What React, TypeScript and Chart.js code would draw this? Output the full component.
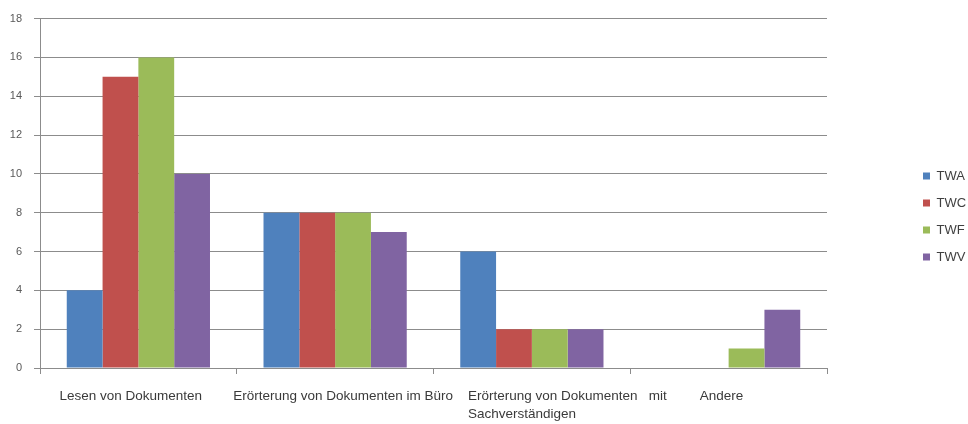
import React, { useEffect, useRef } from "react";
import { Chart, registerables } from "chart.js";

Chart.register(...registerables);

// ---- data ----
const categories: string[][] = [
  ["Lesen von Dokumenten"],
  ["Erörterung von Dokumenten im Büro"],
  ["Erörterung von Dokumenten   mit", "Sachverständigen"],
  ["Andere"],
];
const seriesNames = ["TWA", "TWC", "TWF", "TWV"];
const twa = [4, 8, 6, 0];
const twc = [15, 8, 2, 0];
const twf = [16, 8, 2, 1];
const twv = [10, 7, 2, 3];
const yTickValues = [0, 2, 4, 6, 8, 10, 12, 14, 16, 18];

// ---- styles ----
const colors = ["#4F81BD", "#C0504D", "#9BBB59", "#8064A2"];
const GRID = "#8c8c8c";
const FONT = '"Liberation Sans", Arial, sans-serif';
const labelShift = [-79, -102, -64, -29];

const layoutPlugin = {
  id: "layoutTweaks",
  afterInit(chart: any) {
    const lg = chart.legend;
    if (!lg) return;
    const origFit = lg.fit.bind(lg);
    lg.fit = function () {
      origFit();
      this.width = 968 - 827;
    };
  },
  afterLayout(chart: any) {
    const lg = chart.legend;
    if (!lg) return;
    const pad = lg.options.labels.padding;
    const w = lg.width;
    lg.left = 923 - pad;
    lg.right = lg.left + w;
    lg.top = 0;
    lg.bottom = 433;
  },
  afterDraw(chart: any) {
    const xs = chart.scales.x;
    const ctx = chart.ctx;
    ctx.save();
    ctx.font = "13.5px " + FONT;
    ctx.fillStyle = "#3a3a3a";
    ctx.textAlign = "left";
    ctx.textBaseline = "middle";
    (chart.data.labels as any[]).forEach((lab, i) => {
      const lines = Array.isArray(lab) ? lab : [lab];
      const px = xs.getPixelForValue(i) + labelShift[i];
      lines.forEach((ln: string, j: number) => {
        ctx.fillText(ln, px, xs.top + 28 + j * 18);
      });
    });
    ctx.restore();
  },
};

export default function App() {
  const ref = useRef<HTMLCanvasElement | null>(null);
  useEffect(() => {
    if (!ref.current) return;
    const series = [twa, twc, twf, twv];
    const chart = new Chart(ref.current, {
      type: "bar",
      data: {
        labels: categories,
        datasets: seriesNames.map((name, i) => ({
          label: name,
          data: series[i],
          backgroundColor: colors[i],
          borderWidth: 0,
          categoryPercentage: 0.728,
          barPercentage: 1,
        })),
      },
      options: {
        responsive: false,
        animation: false,
        layout: { padding: { left: 0, right: 0, top: 15, bottom: 0 } },
        plugins: {
          tooltip: { enabled: false },
          legend: {
            position: "right",
            labels: {
              boxWidth: 7,
              boxHeight: 7,
              padding: 14,
              color: "#404040",
              font: { family: FONT, size: 13 },
            },
          },
        },
        scales: {
          x: {
            offset: true,
            grid: {
              display: true,
              offset: true,
              drawOnChartArea: false,
              drawTicks: true,
              tickLength: 6,
              color: GRID,
            },
            border: { display: true, color: GRID },
            ticks: { display: false },
            afterFit: (s: any) => {
              s.height = 56;
            },
          },
          y: {
            min: 0,
            max: 18,
            afterBuildTicks: (s: any) => {
              s.ticks = yTickValues.map((v) => ({ value: v }));
            },
            grid: {
              color: GRID,
              drawTicks: true,
              tickLength: 6,
            },
            border: { display: true, color: GRID },
            ticks: {
              padding: 12,
              color: "#595959",
              font: { family: FONT, size: 11 },
            },
            afterFit: (s: any) => {
              s.width = 40;
            },
          },
        },
      },
      plugins: [layoutPlugin],
    } as any);
    return () => chart.destroy();
  }, []);
  return (
    <div style={{ position: "absolute", left: 0, top: 0, width: 968, height: 424, background: "#fff" }}>
      <canvas ref={ref} width={968} height={424} />
    </div>
  );
}
